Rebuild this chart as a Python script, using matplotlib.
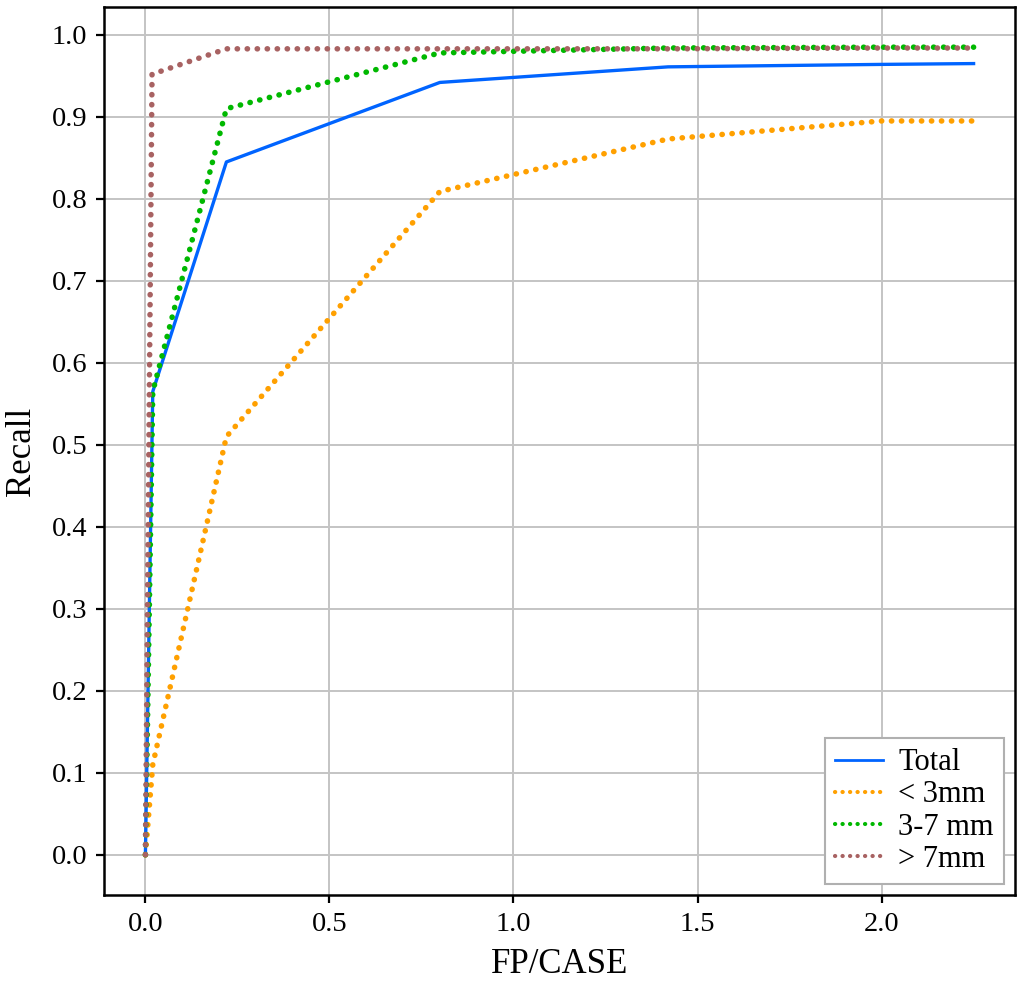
import numpy as np
import matplotlib
matplotlib.use("Agg")
import matplotlib.pyplot as plt

plt.rcParams['font.family'] = ['Liberation Serif', 'DejaVu Serif']

# FROC points
fp = [0.0, 0.02, 0.22, 0.80, 1.42, 2.00, 2.25]
recall_total = [0.0, 0.565, 0.845, 0.942, 0.961, 0.964, 0.965]
recall_small = [0.0, 0.11, 0.51, 0.809, 0.873, 0.895, 0.895]
recall_mid = [0.0, 0.565, 0.91, 0.978, 0.984, 0.985, 0.985]
fp_large = [0.0, 0.018, 0.22, 0.80, 1.42, 2.00, 2.25]
recall_large = [0.0, 0.952, 0.983, 0.983, 0.983, 0.984, 0.984]

labels = ['Total', '< 3mm', '3-7 mm', '> 7mm']
xticks = [0.0, 0.5, 1.0, 1.5, 2.0]
yticks = np.arange(0, 11) / 10

dots = (0, (0.05, 1.75))

fig = plt.figure(figsize=(10.21, 9.85), dpi=100)
ax = fig.add_axes([104 / 1021, 1 - 895 / 985, 911 / 1021, 888 / 985])

ax.plot(fp, recall_total, color='#0064ff', lw=2.4, label=labels[0])
ax.plot(fp, recall_small, color='#ffa000', lw=4.0, ls=dots, dash_capstyle='round', label=labels[1])
ax.plot(fp, recall_mid, color='#00b800', lw=4.0, ls=dots, dash_capstyle='round', label=labels[2])
ax.plot(fp_large, recall_large, color='#a86262', lw=4.0, ls=dots, dash_capstyle='round', label=labels[3])

ax.set_xlim(-0.1125, 2.3625)
ax.set_ylim(-0.049, 1.034)
ax.set_xticks(xticks)
ax.set_yticks(yticks)
ax.set_xticklabels(['%.1f' % v for v in xticks])
ax.set_yticklabels(['%.1f' % v for v in yticks])
ax.tick_params(labelsize=20.5, width=1.6, length=6, pad=6)
ax.grid(True, color='#c4c4c4', lw=1.4)
ax.set_axisbelow(True)
for s in ax.spines.values():
    s.set_linewidth(1.8)

ax.set_xlabel('FP/CASE', fontsize=25, labelpad=8)
ax.set_ylabel('Recall', fontsize=25, labelpad=10)

leg = ax.legend(loc='lower right', fontsize=22, fancybox=False, framealpha=1,
                edgecolor='#b0b0b0', handlelength=1.55, handletextpad=0.5,
                labelspacing=0.1, borderpad=0.35, borderaxespad=0.35)
leg.get_frame().set_linewidth(1.5)
for ln in leg.get_lines():
    ln.set_linewidth(2.0 if ln.get_linestyle() == '-' else 3.0)

fig.savefig('out.png', dpi=100)
